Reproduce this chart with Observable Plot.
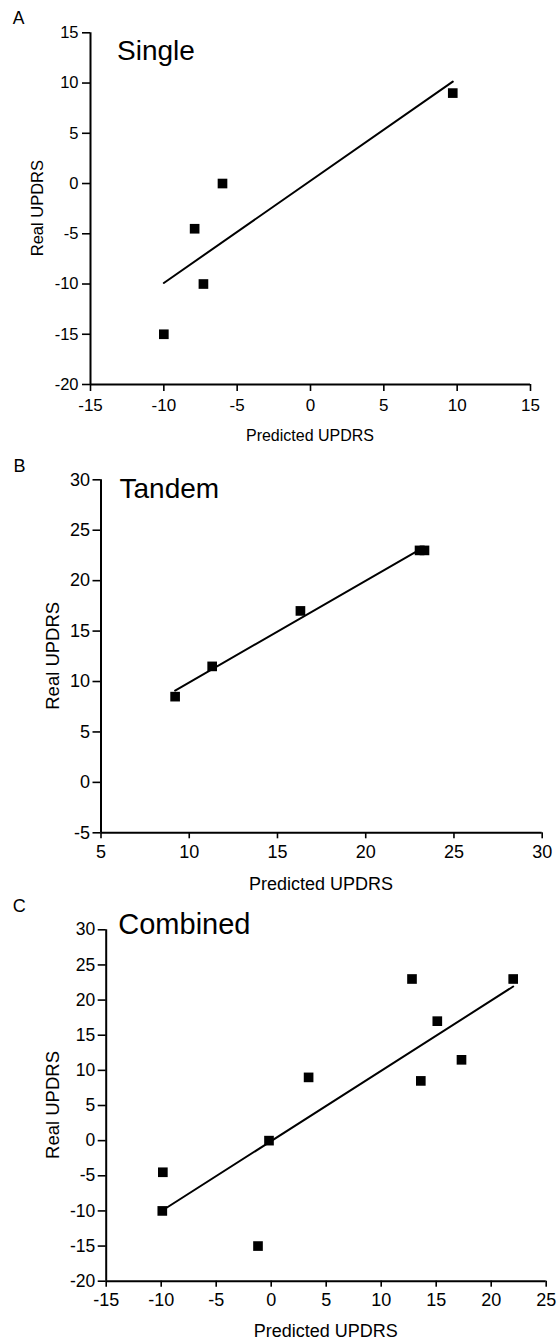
<!DOCTYPE html>
<html><head><meta charset="utf-8">
<script src="https://cdn.jsdelivr.net/npm/d3@7"></script>
<script src="https://cdn.jsdelivr.net/npm/@observablehq/plot@0.6"></script>
<style>
body{margin:0;background:#fff;}
#fig{position:relative;width:558px;height:1343px;font-family:"Liberation Sans",Arial,sans-serif;}
#fig svg{position:absolute;left:0;}
</style></head><body><div id="fig"></div>
<script>
// ---- data ----
const panelLetters = ["A", "B", "C"];
const panelTitles = ["Single", "Tandem", "Combined"];
const xLabel = "Predicted UPDRS";
const yLabel = "Real UPDRS";

const singlePredicted = [9.7, -6.0, -7.9, -7.3, -10.0];
const singleReal = [9, 0, -4.5, -10, -15];
const tandemPredicted = [9.2, 11.3, 16.3, 23.05, 23.33];
const tandemReal = [8.5, 11.5, 17, 23, 23];
const combinedPredicted = [12.8, 22.0, 15.1, 17.3, 13.6, 3.4, -0.2, -9.85, -9.9, -1.2];
const combinedReal = [23, 23, 17, 11.5, 8.5, 9, 0, -4.5, -10, -15];

const singleXTicks = [-15, -10, -5, 0, 5, 10, 15];
const singleYTicks = [-20, -15, -10, -5, 0, 5, 10, 15];
const tandemXTicks = [5, 10, 15, 20, 25, 30];
const tandemYTicks = [-5, 0, 5, 10, 15, 20, 25, 30];
const combinedXTicks = [-15, -10, -5, 0, 5, 10, 15, 20, 25];
const combinedYTicks = [-20, -15, -10, -5, 0, 5, 10, 15, 20, 25, 30];

// ---- layout ----
const FONT = "Liberation Sans, Arial, Helvetica, sans-serif";
const layouts = [
  {top: 0, height: 440, mt: 32.3, mb: 56, ml: 90, mr: 28,
   xTickFont: 17, yTickFont: 16.5, xTS: 7, xTP: 7, yTS: 8, yTP: 4,
   letter: {x: 12.7, y: 24, size: 17.5}, title: {x: 117, y: 60, size: 28},
   xl: {y: 440.5, size: 16}, yl: {x: 43, size: 16.5}},
  {top: 440, height: 450, mt: 39.3, mb: 57.7, ml: 100.5, mr: 16.3,
   xTickFont: 18, yTickFont: 18, xTS: 6, xTP: 6.5, yTS: 8, yTP: 3,
   letter: {x: 13.6, y: 32, size: 18}, title: {x: 119.5, y: 58, size: 28},
   xl: {y: 449.5, size: 18}, yl: {x: 58.5, size: 18.5}},
  {top: 890, height: 453, mt: 39.3, mb: 62.3, ml: 105.7, mr: 12.3,
   xTickFont: 18, yTickFont: 17.5, xTS: 6, xTP: 6.5, yTS: 8, yTP: 3,
   letter: {x: 12.7, y: 21.5, size: 18}, title: {x: 118.3, y: 44, size: 29},
   xl: {y: 446.7, size: 18}, yl: {x: 59, size: 18.5}}
];

const series = [
  [singlePredicted, singleReal, singleXTicks, singleYTicks],
  [tandemPredicted, tandemReal, tandemXTicks, tandemYTicks],
  [combinedPredicted, combinedReal, combinedXTicks, combinedYTicks]
];

const fig = document.getElementById("fig");

series.forEach(([px, ry, xT, yT], i) => {
  const L = layouts[i];
  const data = px.map((p, j) => ({p, r: ry[j]}));
  const fmt = d => String(d);
  const chart = Plot.plot({
    width: 558, height: L.height,
    marginTop: L.mt, marginBottom: L.mb, marginLeft: L.ml, marginRight: L.mr,
    style: {fontFamily: FONT, fontSize: L.yTickFont + "px", color: "#000", background: "transparent", overflow: "visible"},
    x: {domain: [xT[0], xT[xT.length - 1]], ticks: xT, label: null},
    y: {domain: [yT[0], yT[yT.length - 1]], ticks: yT, label: null},
    marks: [
      Plot.axisX({ticks: xT, tickSize: L.xTS, tickPadding: L.xTP, fontSize: L.xTickFont,
                  strokeWidth: 1.6, label: null, tickFormat: fmt, fill: "#000"}),
      Plot.axisY({ticks: yT, tickSize: L.yTS, tickPadding: L.yTP, fontSize: L.yTickFont,
                  strokeWidth: 1.6, label: null, tickFormat: fmt, fill: "#000"}),
      Plot.ruleX([xT[0]], {stroke: "#000", strokeWidth: 2}),
      Plot.ruleY([yT[0]], {stroke: "#000", strokeWidth: 2}),
      Plot.linearRegressionY(data, {x: "p", y: "r", ci: 0, stroke: "#000", strokeWidth: 2}),
      Plot.dot(data, {x: "p", y: "r", symbol: "square", r: 5.45, fill: "#000"})
    ]
  });
  chart.style.top = L.top + "px";
  const svg = d3.select(chart);
  svg.selectAll("g[aria-label='x-axis tick label']").attr("font-size", L.xTickFont + "px")
     .selectAll("text").attr("font-size", null);
  svg.selectAll("g[aria-label='y-axis tick label']").attr("font-size", L.yTickFont + "px")
     .selectAll("text").attr("font-size", null);
  const t = (x, y, s, txt, anchor) => svg.append("text")
    .attr("x", x).attr("y", y).attr("font-size", s + "px").attr("font-family", FONT)
    .attr("fill", "#000").attr("text-anchor", anchor).text(txt);
  t(L.letter.x, L.letter.y, L.letter.size, panelLetters[i], "start");
  t(L.title.x, L.title.y, L.title.size, panelTitles[i], "start");
  const cx = L.ml + (558 - L.ml - L.mr) / 2;
  t(cx, L.xl.y, L.xl.size, xLabel, "middle");
  const cy = L.mt + (L.height - L.mt - L.mb) / 2;
  svg.append("text")
    .attr("transform", `translate(${L.yl.x},${cy}) rotate(-90)`)
    .attr("font-size", L.yl.size + "px").attr("font-family", FONT).attr("fill", "#000")
    .attr("text-anchor", "middle").text(yLabel);
  fig.appendChild(chart);
});
</script>
</body></html>
